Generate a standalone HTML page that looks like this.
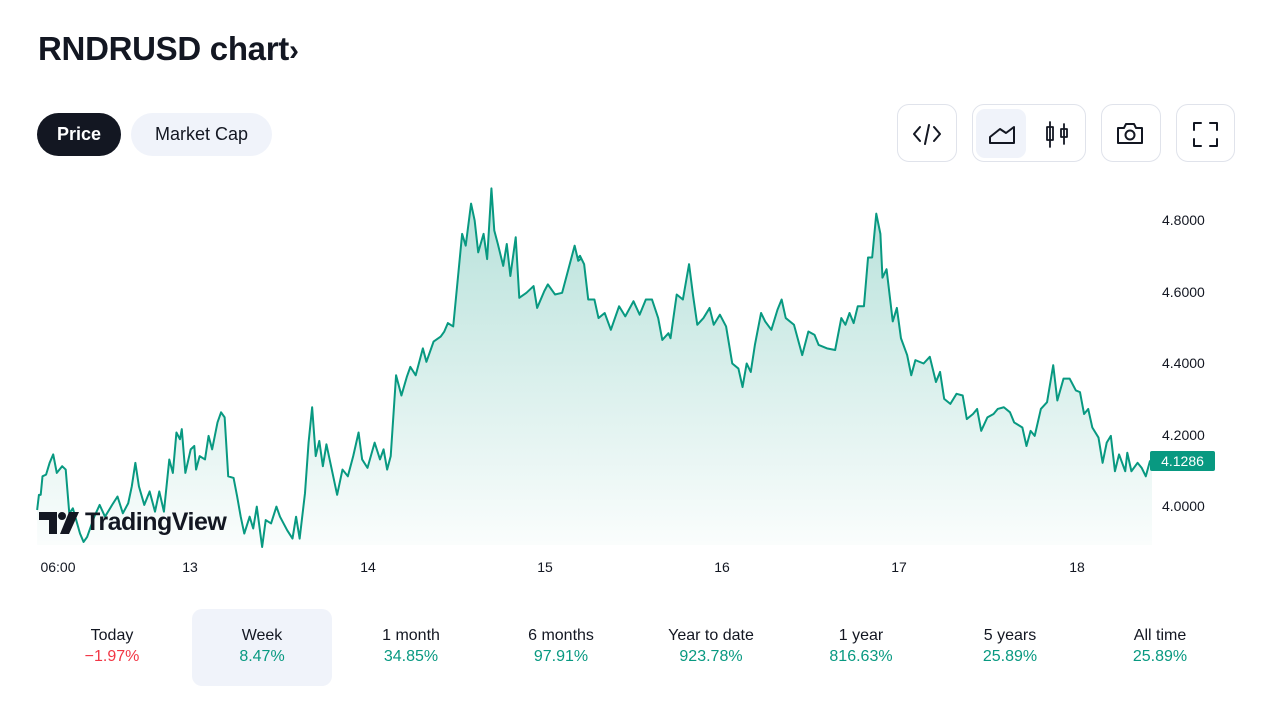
<!DOCTYPE html>
<html><head><meta charset="utf-8"><style>
body{margin:0;width:1280px;height:720px;background:#fff;font-family:"Liberation Sans",sans-serif;color:#131722;position:relative;overflow:hidden}
.a{position:absolute}
.pill{position:absolute;top:113px;height:43px;border-radius:22px;font-size:18px;line-height:43px;text-align:center}
.ib{position:absolute;top:104px;height:58px;border:1px solid #e0e3eb;border-radius:12px;box-sizing:border-box}
.yl{position:absolute;left:1162px;font-size:14px;line-height:16px}
.xl{position:absolute;top:559px;font-size:14px;width:60px;margin-left:-30px;text-align:center}
.per{position:absolute;top:609px;width:140px;height:77px;margin-left:-70px;text-align:center;font-size:16px;border-radius:10px}
.per .t{margin-top:17px;line-height:20px}.per .v{line-height:22px}
.g{color:#089981}.r{color:#f23645}
</style></head><body>
<div class="a" style="left:38px;top:30px;font-size:33px;font-weight:bold;letter-spacing:-0.3px">RNDRUSD chart<span style="font-size:30px">›</span></div>
<div class="pill" style="left:37px;width:84px;background:#131722;color:#fff;font-weight:bold">Price</div>
<div class="pill" style="left:131px;width:141px;background:#f0f3fa">Market Cap</div>
<div class="ib" style="left:897px;width:60px"></div>
<div class="ib" style="left:972px;width:114px"></div>
<div class="a" style="left:976px;top:109px;width:50px;height:49px;background:#f0f3fa;border-radius:9px"></div>
<div class="ib" style="left:1101px;width:60px"></div>
<div class="ib" style="left:1176px;width:59px"></div>
<svg class="a" style="left:0;top:0" width="1280" height="200" fill="none" stroke="#131722" stroke-width="2" stroke-linecap="round" stroke-linejoin="round">
<path d="M920 127l-6 7 6 7M934 127l6 7-6 7M929 125l-4 19"/>
<path d="M990 143h24v-16l-8 6-6-4-10 8z"/>
<path d="M1050 122v25M1047 127h6v13h-6zM1064 124v20M1061 129h6v8h-6z" stroke-width="1.8"/>
<path d="M1118 128h6l2-4h8l2 4h6v15h-24z"/><circle cx="1130" cy="135" r="4.5"/>
<path d="M1194 130v-7h7M1210 123h7v7M1217 139v7h-7M1201 146h-7v-7"/>
</svg>
<svg class="a" style="left:0;top:0" width="1280" height="560">
<defs><linearGradient id="gr" gradientUnits="userSpaceOnUse" x1="0" y1="24" x2="0" y2="1084"><stop offset="0" stop-color="#089981" stop-opacity="0.3"/><stop offset="1" stop-color="#089981" stop-opacity="0.02"/></linearGradient></defs>
<g transform="translate(30,180) scale(0.35714,0.3367)">
<path fill="url(#gr)" d="M20,1084 L20,980 25,935 30,935 35,880 45,875 55,840 65,815 75,870 90,850 100,860 110,990 120,975 140,1050 150,1075 160,1060 180,1000 195,965 210,1000 230,965 245,940 260,990 275,960 285,910 295,840 305,910 320,965 335,925 350,985 362,925 375,985 390,830 400,870 410,750 420,770 425,740 435,870 450,800 460,790 465,860 475,820 490,830 500,760 510,800 525,720 535,690 545,705 555,880 570,885 580,940 590,1000 600,1050 615,1000 625,1035 635,970 650,1090 660,1010 675,1020 690,970 700,1000 720,1040 735,1065 745,1000 755,1065 770,930 780,780 790,675 800,820 810,775 820,850 830,785 845,860 860,935 875,860 890,880 905,820 920,750 930,830 945,855 965,780 980,830 990,800 1000,860 1010,820 1025,580 1040,640 1055,585 1065,555 1080,580 1100,500 1110,540 1130,480 1150,465 1160,450 1170,425 1185,435 1200,270 1210,160 1220,195 1235,70 1245,120 1255,215 1270,160 1280,235 1292,25 1300,150 1310,190 1325,255 1335,190 1345,285 1360,170 1370,350 1390,335 1410,315 1420,380 1440,330 1450,310 1470,340 1490,335 1510,255 1525,195 1535,240 L1535,1084Z"/>
<path fill="none" stroke="#089981" stroke-width="2" vector-effect="non-scaling-stroke" stroke-linejoin="round" d="M20,980 25,935 30,935 35,880 45,875 55,840 65,815 75,870 90,850 100,860 110,990 120,975 140,1050 150,1075 160,1060 180,1000 195,965 210,1000 230,965 245,940 260,990 275,960 285,910 295,840 305,910 320,965 335,925 350,985 362,925 375,985 390,830 400,870 410,750 420,770 425,740 435,870 450,800 460,790 465,860 475,820 490,830 500,760 510,800 525,720 535,690 545,705 555,880 570,885 580,940 590,1000 600,1050 615,1000 625,1035 635,970 650,1090 660,1010 675,1020 690,970 700,1000 720,1040 735,1065 745,1000 755,1065 770,930 780,780 790,675 800,820 810,775 820,850 830,785 845,860 860,935 875,860 890,880 905,820 920,750 930,830 945,855 965,780 980,830 990,800 1000,860 1010,820 1025,580 1040,640 1055,585 1065,555 1080,580 1100,500 1110,540 1130,480 1150,465 1160,450 1170,425 1185,435 1200,270 1210,160 1220,195 1235,70 1245,120 1255,215 1270,160 1280,235 1292,25 1300,150 1310,190 1325,255 1335,190 1345,285 1360,170 1370,350 1390,335 1410,315 1420,380 1440,330 1450,310 1470,340 1490,335 1510,255 1525,195 1535,240 1545,232"/>
</g>
<g transform="translate(580,180) scale(0.4115,0.3367)">
<path fill="url(#gr)" d="M-4.4,1084 L-4.4,232 0,225 10,250 20,355 35,355 45,410 60,395 75,445 95,375 110,405 130,360 145,400 160,355 175,355 190,410 200,475 215,455 220,470 235,340 250,355 265,250 275,345 285,430 300,410 315,380 325,430 340,400 355,435 370,545 385,560 395,615 405,545 415,570 425,490 440,395 450,420 465,445 480,385 490,355 500,410 520,430 540,520 555,450 570,460 580,490 600,500 620,505 635,410 645,430 655,395 665,425 675,375 690,375 700,230 710,230 720,100 730,160 735,290 745,265 760,420 770,380 780,470 795,520 805,580 815,535 835,545 850,525 865,600 875,570 885,650 900,665 915,635 930,640 940,710 955,695 965,680 975,745 990,705 1005,695 1015,680 1030,675 1045,690 1055,720 1075,735 1085,790 1095,745 1105,760 1120,680 1135,660 1150,550 1160,655 1175,590 1190,590 1205,625 1215,630 1225,695 1235,680 1245,735 1260,765 1270,840 1280,780 1290,760 1300,865 1310,815 1325,865 1330,810 1340,865 1355,840 1365,855 1375,880 1385,835 1390,830 L1390,1084Z"/>
<path fill="none" stroke="#089981" stroke-width="2" vector-effect="non-scaling-stroke" stroke-linejoin="round" d="M-5,232 0,225 10,250 20,355 35,355 45,410 60,395 75,445 95,375 110,405 130,360 145,400 160,355 175,355 190,410 200,475 215,455 220,470 235,340 250,355 265,250 275,345 285,430 300,410 315,380 325,430 340,400 355,435 370,545 385,560 395,615 405,545 415,570 425,490 440,395 450,420 465,445 480,385 490,355 500,410 520,430 540,520 555,450 570,460 580,490 600,500 620,505 635,410 645,430 655,395 665,425 675,375 690,375 700,230 710,230 720,100 730,160 735,290 745,265 760,420 770,380 780,470 795,520 805,580 815,535 835,545 850,525 865,600 875,570 885,650 900,665 915,635 930,640 940,710 955,695 965,680 975,745 990,705 1005,695 1015,680 1030,675 1045,690 1055,720 1075,735 1085,790 1095,745 1105,760 1120,680 1135,660 1150,550 1160,655 1175,590 1190,590 1205,625 1215,630 1225,695 1235,680 1245,735 1260,765 1270,840 1280,780 1290,760 1300,865 1310,815 1325,865 1330,810 1340,865 1355,840 1365,855 1375,880 1385,835 1395,830"/>
</g>
<g fill="#131722"><path d="M39 512h18v22h-8v-14h-10z"/><circle cx="62" cy="516" r="4"/><path d="M69 512h10l-10 22h-9z"/></g>
</svg>
<div class="a" style="left:85px;top:508px;font-size:25px;font-weight:bold;color:#131722;letter-spacing:-0.5px">TradingView</div>
<div class="yl" style="top:212px">4.8000</div>
<div class="yl" style="top:284px">4.6000</div>
<div class="yl" style="top:355px">4.4000</div>
<div class="yl" style="top:427px">4.2000</div>
<div class="yl" style="top:498px">4.0000</div>
<div class="a" style="left:1150px;top:451px;width:65px;height:20px;background:#089981;color:#fff;font-size:14px;line-height:20px;text-align:center;border-radius:2px">4.1286</div>
<div class="xl" style="left:58px">06:00</div>
<div class="xl" style="left:190px">13</div>
<div class="xl" style="left:368px">14</div>
<div class="xl" style="left:545px">15</div>
<div class="xl" style="left:722px">16</div>
<div class="xl" style="left:899px">17</div>
<div class="xl" style="left:1077px">18</div>
<div class="per" style="left:112px"><div class="t">Today</div><div class="v r">−1.97%</div></div>
<div class="per" style="left:262px;background:#f0f3fa"><div class="t">Week</div><div class="v g">8.47%</div></div>
<div class="per" style="left:411px"><div class="t">1 month</div><div class="v g">34.85%</div></div>
<div class="per" style="left:561px"><div class="t">6 months</div><div class="v g">97.91%</div></div>
<div class="per" style="left:711px"><div class="t">Year to date</div><div class="v g">923.78%</div></div>
<div class="per" style="left:861px"><div class="t">1 year</div><div class="v g">816.63%</div></div>
<div class="per" style="left:1010px"><div class="t">5 years</div><div class="v g">25.89%</div></div>
<div class="per" style="left:1160px"><div class="t">All time</div><div class="v g">25.89%</div></div>
</body></html>
